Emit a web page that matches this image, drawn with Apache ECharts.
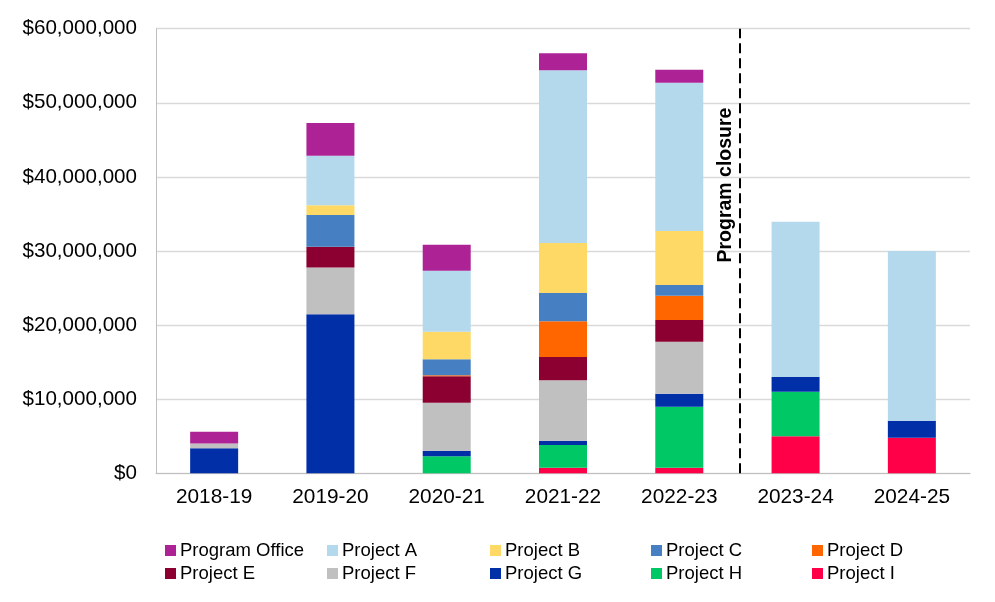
<!DOCTYPE html>
<html>
<head>
<meta charset="utf-8">
<script src="https://cdn.jsdelivr.net/npm/echarts@6/dist/echarts.min.js"></script>
<style>html,body{margin:0;padding:0;background:#fff}#c{width:995px;height:602px}</style>
</head>
<body>
<div id="c"></div>
<script>
const categories = ['2018-19','2019-20','2020-21','2021-22','2022-23','2023-24','2024-25'];
// values in dollars (stack order bottom to top: I, H, G, F, E, D, C, B, A, Program Office)
const projectI = [0, 0, 0, 760000, 760000, 5000000, 4800000];
const projectH = [0, 0, 2290000, 3060000, 8230000, 6000000, 0];
const projectG = [3370000, 21460000, 760000, 580000, 1750000, 2000000, 2300000];
const projectF = [650000, 6300000, 6480000, 8150000, 7020000, 0, 0];
const projectE = [0, 2800000, 3560000, 3150000, 2930000, 0, 0];
const projectD = [0, 0, 130000, 4810000, 3280000, 0, 0];
const projectC = [0, 4300000, 2160000, 3820000, 1440000, 0, 0];
const projectB = [0, 1300000, 3730000, 6750000, 7290000, 0, 0];
const projectA = [0, 6700000, 8230000, 23310000, 20010000, 20950000, 22900000];
const programOffice = [1600000, 4400000, 3510000, 2290000, 1760000, 0, 0];
const yTicks = [0, 10000000, 20000000, 30000000, 40000000, 50000000, 60000000];
const closurePosition = 4.52; // between 2022-23 and 2023-24 (category index units)
const closureLabel = 'Program closure';

const seriesDefs = [
  ['Project I', projectI, '#FF0048'],
  ['Project H', projectH, '#00C864'],
  ['Project G', projectG, '#002FA7'],
  ['Project F', projectF, '#C0C0C0'],
  ['Project E', projectE, '#8B0030'],
  ['Project D', projectD, '#FF6600'],
  ['Project C', projectC, '#4680C2'],
  ['Project B', projectB, '#FFD966'],
  ['Project A', projectA, '#B4D9EC'],
  ['Program Office', programOffice, '#AD2396']
];
const legendOrder = ['Program Office','Project A','Project B','Project C','Project D',
                     'Project E','Project F','Project G','Project H','Project I'];
const legendCols = [165, 327, 490, 651, 812];
const legendRows = [541, 564];

const FONT = 'Liberation Sans, Arial, sans-serif';
const chart = echarts.init(document.getElementById('c'));

const series = seriesDefs.map(([name, data, color]) => ({
  name, type: 'bar', stack: 'total', data, barWidth: 48,
  itemStyle: { color }, emphasis: { disabled: true }
}));
series.push({
  name: 'closure', type: 'line', xAxisIndex: 1, yAxisIndex: 0, data: [],
  markLine: {
    silent: true, symbol: ['none','none'], label: { show: false },
    lineStyle: { color: '#000', width: 2, type: [10, 5] },
    data: [{ xAxis: closurePosition }]
  }
});

const legends = legendOrder.map((name, i) => ({
  data: [name], left: legendCols[i % 5], top: legendRows[Math.floor(i / 5)],
  padding: 0, itemWidth: 11, itemHeight: 11, icon: 'rect', itemGap: 0,
  selectedMode: false,
  textStyle: { fontFamily: FONT, fontSize: 18.5, color: '#000', padding: [0,0,0,-1] }
}));

chart.setOption({
  animation: false,
  backgroundColor: '#fff',
  grid: { left: 156, right: 25, top: 28.7, bottom: 128.7, containLabel: false },
  legend: legends,
  xAxis: [{
    type: 'category', data: categories,
    axisLine: { lineStyle: { color: '#bfbfbf', width: 1 } },
    axisTick: { show: false },
    axisLabel: { fontFamily: FONT, fontSize: 20.8, color: '#000', margin: 13 }
  }, {
    type: 'value', min: -0.5, max: 6.5, show: false
  }],
  yAxis: {
    type: 'value', min: yTicks[0], max: yTicks[yTicks.length - 1], interval: yTicks[1] - yTicks[0],
    axisLine: { show: true, onZero: false, lineStyle: { color: '#bfbfbf' } },
    axisTick: { show: false },
    splitLine: { lineStyle: { color: '#d9d9d9', width: 1.3 } },
    axisLabel: {
      fontFamily: FONT, fontSize: 20.6, color: '#000', margin: 19,
      formatter: v => '$' + Math.round(v).toLocaleString('en-US')
    }
  },
  series
});

const px = chart.convertToPixel({ xAxisIndex: 1 }, closurePosition);
const py = chart.convertToPixel({ yAxisIndex: 0 }, 38900000);
chart.setOption({
  graphic: [{
    type: 'text', x: px - 14, y: py, rotation: Math.PI / 2,
    style: {
      text: closureLabel, fontFamily: FONT, fontSize: 19.5, fontWeight: 'bold',
      fill: '#000', textAlign: 'center', textVerticalAlign: 'middle'
    }
  }]
});
</script>
</body>
</html>
